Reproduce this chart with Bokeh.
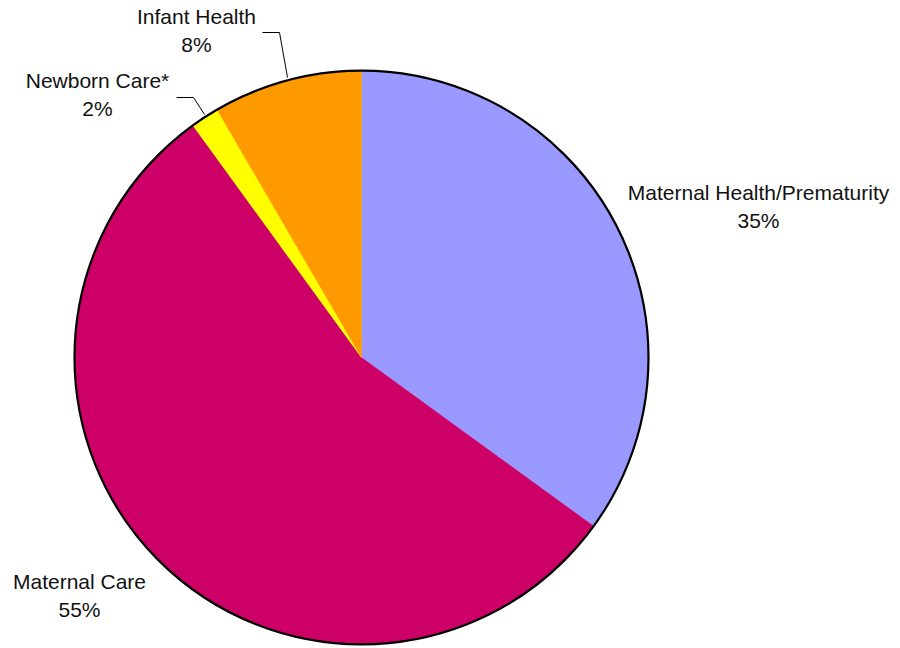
import math
from bokeh.plotting import figure
from bokeh.models import Range1d, ColumnDataSource
from bokeh.core.properties import value
from bokeh.embed import file_html
from bokeh.resources import INLINE

# ---- data ----
categories = ["Maternal Health/Prematurity", "Maternal Care", "Newborn Care*", "Infant Health"]
shares = [35.0, 55.0, 1.6, 8.4]
pct_labels = ["35%", "55%", "2%", "8%"]
colors = ["#9999FF", "#CC0066", "#FFFF00", "#FF9900"]

# ---- layout (x right, y = 648 - screen_y) ----
W, H = 900, 648
cx, cy, r = 361, H - 357, 287

p = figure(width=W, height=H, output_backend="svg", toolbar_location=None,
           x_range=Range1d(0, W), y_range=Range1d(0, H),
           min_border=0, outline_line_color=None, background_fill_color="white")
p.axis.visible = False
p.grid.visible = False

total = sum(shares)
starts, ends = [], []
cum = 0.0
for s in shares:
    a0 = math.pi / 2 - 2 * math.pi * cum / total
    cum += s
    a1 = math.pi / 2 - 2 * math.pi * cum / total
    starts.append(a0)
    ends.append(a1)

src = ColumnDataSource(dict(start=starts, end=ends, color=colors, cat=categories))
p.wedge(x=cx, y=cy, radius=r, start_angle="start", end_angle="end", direction="clock",
        fill_color="color", line_color="color", line_width=0.5, source=src)
p.circle(x=[cx], y=[cy], radius=r, fill_color=None, line_color="black", line_width=2.2)

# leader lines
p.line(x=[262, 279, 287], y=[H - 32, H - 32, H - 77], line_color="black", line_width=1)
p.line(x=[176, 193, 204], y=[H - 97, H - 97, H - 114], line_color="black", line_width=1)

# labels: (center x, baseline of name line in screen y)
label_pos = [(758, 192), (79, 581), (97, 80), (196, 16)]
lx, ly1, ly2 = [], [], []
for (x, yb) in label_pos:
    lx.append(x)
    ly1.append(H - yb)
    ly2.append(H - yb - 28)

font = value("Liberation Sans")
p.text(x=lx, y=ly1, text=categories, text_font=font, text_font_size="21px",
       text_align="center", text_baseline="alphabetic", text_color="#111111")
p.text(x=lx, y=ly2, text=pct_labels, text_font=font, text_font_size="21px",
       text_align="center", text_baseline="alphabetic", text_color="#111111")

open("out.html", "w").write(file_html(p, INLINE))
